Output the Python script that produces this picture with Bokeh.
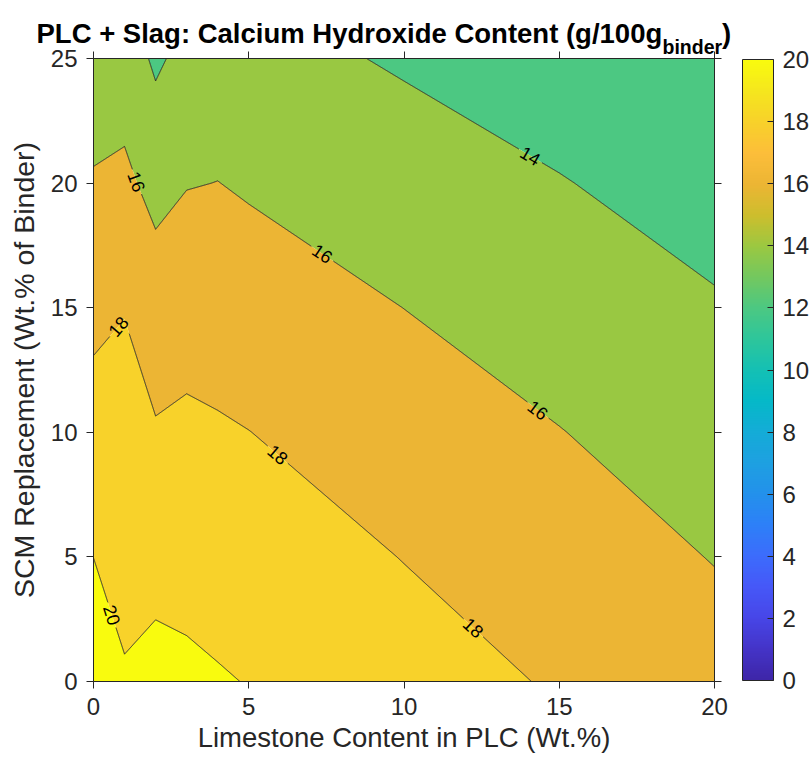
import numpy as np
import contourpy
from bokeh.plotting import figure
from bokeh.layouts import column
from bokeh.models import (LinearAxis, FixedTicker, ColorBar, LinearColorMapper, Range1d)
from bokeh.core.properties import value
from bokeh.embed import file_html
from bokeh.resources import INLINE

# ---------------- data ----------------
limestone = [0, 1, 2, 3, 4, 5, 10, 15, 20]          # Limestone content in PLC (wt.%)
scm = [0, 5, 10, 15, 20, 25]                          # SCM replacement (wt.% of binder)
# Calcium hydroxide content (g/100g binder), one row per SCM level
ch_scm0 = [21.20, 20.25, 20.50, 20.35, 20.15, 19.94, 18.87, 17.81, 16.81]
ch_scm5 = [19.99, 19.11, 19.49, 19.40, 19.19, 19.04, 17.95, 16.95, 15.93]
ch_scm10 = [18.80, 18.90, 18.15, 18.30, 18.15, 18.02, 17.00, 16.05, 15.04]
ch_scm15 = [17.50, 17.91, 17.00, 17.33, 17.30, 16.94, 15.99, 15.05, 14.16]
ch_scm20 = [16.20, 16.40, 15.41, 15.92, 16.02, 15.81, 14.95, 14.08, 13.27]
ch_scm25 = [14.70, 15.04, 13.69, 14.58, 14.90, 14.66, 13.79, 13.10, 12.39]

levels = [12, 14, 16, 18, 20, 22]
line_levels = [14, 16, 18, 20]
x_ticks = [0, 5, 10, 15, 20]
y_ticks = [0, 5, 10, 15, 20, 25]
cbar_ticks = [0, 2, 4, 6, 8, 10, 12, 14, 16, 18, 20]

# contour-label anchors (level, approximate place on the line)
label_levels = [20, 18, 16, 16, 18, 14, 16, 18]
label_near_x = [0.55, 0.76, 1.3, 7.4, 5.86, 14.07, 14.29, 12.2]
label_near_y = [2.65, 14.3, 20.0, 17.2, 9.0, 21.1, 10.87, 2.1]

# parula-like colormap anchors (value on 0..20 scale, colour)
cmap_vals = [0, 1, 2, 3, 4, 5, 6, 7, 8, 9, 10, 11, 12, 13, 14, 15, 16, 17, 18, 19, 20]
cmap_cols = ["#3e26a8", "#4434c8", "#4746e8", "#4658f8", "#3c6cfc", "#2d80f8",
             "#2391eb", "#1ea0e1", "#14acd7", "#05b9c8", "#14c0b4", "#2dc69b",
             "#4cc882", "#73c85f", "#9bc841", "#cdbe2d", "#ecb534", "#fcbe3a",
             "#f8d12a", "#f5e61e", "#f9fb0e"]

title_main = "PLC + Slag: Calcium Hydroxide Content (g/100g"
title_sub = "binder"
title_end = ")"

# ---------------- build ----------------
FONT = "Liberation Sans"
TICK_COL = "#262626"
W, H = 812, 762
TITLE_H = 57          # height of the title strip
OVER = 13             # main canvas overlaps the strip by this much
L, R, B = 93, 98, 81
T = OVER + 1
MAIN_H = H - TITLE_H + OVER
FW, FH = W - L - R, MAIN_H - T - B
XMIN, XMAX, YMIN, YMAX = 0, 20, 0, 25
sx, sy = FW / (XMAX - XMIN), FH / (YMAX - YMIN)


def hex2rgb(h):
    return np.array([int(h[i:i + 2], 16) for i in (1, 3, 5)], float)


anc = np.array([hex2rgb(c) for c in cmap_cols])
pal = []
for v in np.linspace(0, 20, 256):
    rgb = [np.interp(v, cmap_vals, anc[:, k]) for k in range(3)]
    pal.append("#%02x%02x%02x" % tuple(int(round(c)) for c in rgb))


def col_at(v):
    return pal[int(round(min(v, 20) / 20 * 255))]


fill_colors = [col_at(lv) for lv in levels[:-1]]

X = np.array(limestone, float)
Y = np.array(scm, float)
Z = np.array([ch_scm0, ch_scm5, ch_scm10, ch_scm15, ch_scm20, ch_scm25], float)

p = figure(width=W, height=MAIN_H, x_range=Range1d(XMIN, XMAX), y_range=Range1d(YMIN, YMAX),
           output_backend="svg", toolbar_location=None, title_location=None,
           min_border_left=L, min_border_right=R, min_border_top=T, min_border_bottom=B)
p.frame_align = False
p.margin = (-OVER, 0, 0, 0)
p.border_fill_alpha = 0
p.grid.visible = False
p.outline_line_color = TICK_COL
p.outline_line_width = 1

p.contour(x=X, y=Y, z=Z, levels=levels, fill_color=fill_colors, line_color=None)

# ----- contour lines with gaps for labels -----
gen = contourpy.contour_generator(X, Y, Z, line_type="Separate")


def densify(line):
    px = line[:, 0] * sx
    py = line[:, 1] * sy
    out = [(px[0], py[0])]
    for i in range(1, len(px)):
        d = np.hypot(px[i] - px[i - 1], py[i] - py[i - 1])
        n = max(1, int(np.ceil(d / 0.7)))
        for k in range(1, n + 1):
            t = k / n
            out.append((px[i - 1] + t * (px[i] - px[i - 1]), py[i - 1] + t * (py[i] - py[i - 1])))
    return np.array(out)


dense = {lv: [densify(ln) for ln in gen.lines(lv) if len(ln) > 1] for lv in line_levels}

lab_x, lab_y, lab_t, lab_a = [], [], [], []
centers = {lv: [] for lv in line_levels}
for lv, nx, ny in zip(label_levels, label_near_x, label_near_y):
    best = None
    for li, pts in enumerate(dense[lv]):
        d = np.hypot(pts[:, 0] - nx * sx, pts[:, 1] - ny * sy)
        i = int(np.argmin(d))
        if best is None or d[i] < best[0]:
            best = (d[i], li, i)
    _, li, i = best
    pts = dense[lv][li]
    a = pts[max(0, i - 8)]
    b = pts[min(len(pts) - 1, i + 8)]
    ang = np.arctan2(b[1] - a[1], b[0] - a[0])
    if ang > np.pi / 2:
        ang -= np.pi
    if ang <= -np.pi / 2:
        ang += np.pi
    lab_x.append(pts[i, 0] / sx)
    lab_y.append(pts[i, 1] / sy)
    lab_t.append(str(lv))
    lab_a.append(ang)
    centers[lv].append(pts[i])

GAP = 13.0
xs, ys = [], []
for lv in line_levels:
    for pts in dense[lv]:
        keep = np.ones(len(pts), bool)
        for c in centers[lv]:
            keep &= np.hypot(pts[:, 0] - c[0], pts[:, 1] - c[1]) > GAP
        run = []
        for k in range(len(pts)):
            if keep[k]:
                run.append(pts[k])
            elif run:
                if len(run) > 1:
                    r = np.array(run)
                    xs.append(r[:, 0] / sx)
                    ys.append(r[:, 1] / sy)
                run = []
        if len(run) > 1:
            r = np.array(run)
            xs.append(r[:, 0] / sx)
            ys.append(r[:, 1] / sy)

p.multi_line(xs=xs, ys=ys, line_color="#1e1e1e", line_width=0.9)
p.text(x=lab_x, y=lab_y, text=lab_t, angle=lab_a, text_align="center",
       text_baseline="middle", text_font=value(FONT), text_font_size="18px",
       text_color="black")

# ----- axes (box with outward ticks on all four sides) -----
p.add_layout(LinearAxis(), "above")
p.add_layout(LinearAxis(), "right")
for ax in p.below + p.above:
    ax.ticker = FixedTicker(ticks=x_ticks)
for ax in p.left + p.right:
    ax.ticker = FixedTicker(ticks=y_ticks)
for ax in p.below + p.left + p.above + p.right:
    ax.major_tick_in = 0
    ax.major_tick_out = 7
    ax.minor_tick_line_color = None
    ax.axis_line_color = TICK_COL
    ax.major_tick_line_color = TICK_COL
    ax.major_label_text_font = FONT
    ax.major_label_text_font_size = "24px"
    ax.major_label_text_color = TICK_COL
    ax.axis_label_text_font = FONT
    ax.axis_label_text_font_style = "normal"
    ax.axis_label_text_color = TICK_COL
for ax in p.above + p.right:
    ax.major_label_text_color = None
    ax.major_label_text_font_size = "0px"
    ax.major_label_standoff = 0
for ax in p.below:
    ax.axis_label = "Limestone Content in PLC (Wt.%)"
    ax.axis_label_text_font_size = "27.5px"
    ax.major_label_standoff = 9
    ax.axis_label_standoff = 4
for ax in p.left:
    ax.axis_label = "SCM Replacement (Wt.% of Binder)"
    ax.axis_label_text_font_size = "28.5px"
    ax.major_label_standoff = 9
    ax.axis_label_standoff = 8

# ----- colour bar -----
mapper = LinearColorMapper(palette=pal, low=0, high=20)
cb = ColorBar(color_mapper=mapper, ticker=FixedTicker(ticks=cbar_ticks),
              location=(649, 1), width=31, height=FH - 2, padding=0, margin=0,
              orientation="vertical", bar_line_color=TICK_COL, bar_line_width=1,
              major_tick_in=6, major_tick_out=0, major_tick_line_color=TICK_COL,
              minor_tick_line_color=None, label_standoff=9,
              major_label_text_font=FONT, major_label_text_font_size="24px",
              major_label_text_color=TICK_COL, background_fill_alpha=0,
              border_line_color=None)
p.add_layout(cb, "center")

# ----- title strip (shares the x scale of the main plot; y in pixels from top) -----
tf = figure(width=W, height=TITLE_H,
            x_range=Range1d(XMIN - L / sx, XMAX + R / sx), y_range=Range1d(TITLE_H, 0),
            output_backend="svg", toolbar_location=None, title_location=None,
            x_axis_location=None, y_axis_location=None, min_border=0,
            min_border_left=0, min_border_right=0, min_border_top=0, min_border_bottom=0)
tf.frame_align = False
tf.grid.visible = False
tf.outline_line_color = None
tf.border_fill_alpha = 0
tf.background_fill_alpha = 0


def px2x(px):
    return XMIN + (px - L) / sx


tf.text(x=[px2x(36), px2x(721.5)], y=[32.5, 32.5], text=[title_main, title_end],
        text_font=value(FONT), text_font_size="27.5px", text_font_style="bold",
        text_color="black", text_align="left", text_baseline="alphabetic")
tf.text(x=[px2x(662)], y=[46.0], text=[title_sub],
        text_font=value(FONT), text_font_size="19.5px", text_font_style="bold",
        text_color="black", text_align="left", text_baseline="alphabetic")

page = column(tf, p, spacing=0)
open("out.html", "w").write(file_html(page, INLINE))
